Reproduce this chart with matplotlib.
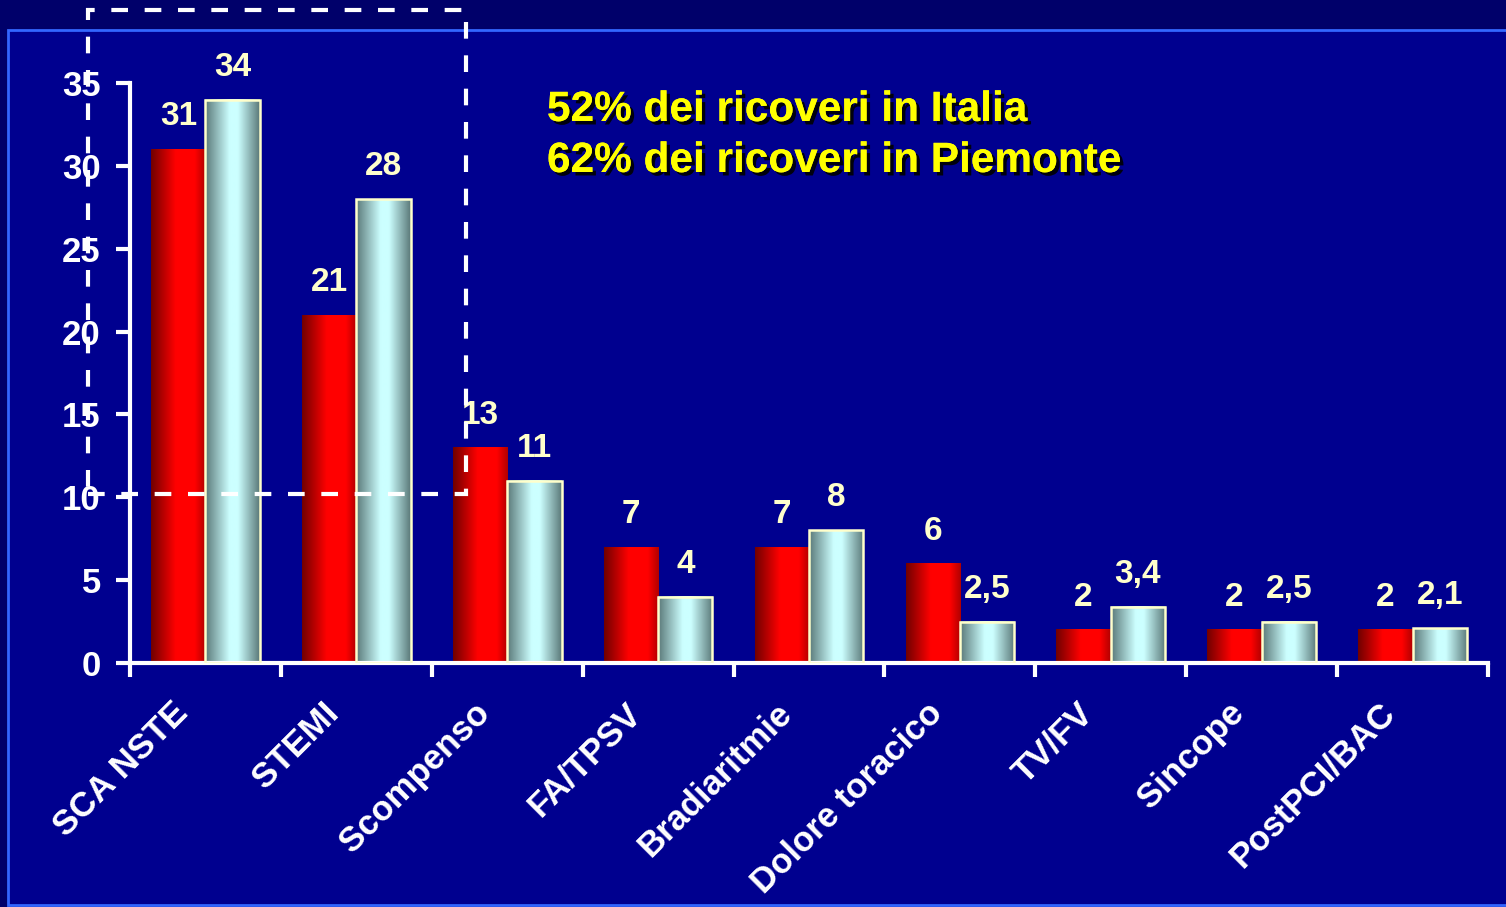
import numpy as np
import matplotlib
matplotlib.use("Agg")
import matplotlib.pyplot as plt
from matplotlib.colors import LinearSegmentedColormap
from matplotlib.patches import Rectangle
import matplotlib.patheffects as pe
import matplotlib.transforms as mtrans

plt.rcParams["font.family"] = ["Liberation Sans", "DejaVu Sans"]
plt.rcParams["font.weight"] = "bold"

categories = ["SCA NSTE", "STEMI", "Scompenso", "FA/TPSV", "Bradiaritmie",
              "Dolore toracico", "TV/FV", "Sincope", "PostPCI/BAC"]
italia = [31, 21, 13, 7, 7, 6, 2, 2, 2]
piemonte = [34, 28, 11, 4, 8, 2.5, 3.4, 2.5, 2.1]
italia_labels = ["31", "21", "13", "7", "7", "6", "2", "2", "2"]
piemonte_labels = ["34", "28", "11", "4", "8", "2,5", "3,4", "2,5", "2,1"]
yticks = [0, 5, 10, 15, 20, 25, 30, 35]

outer_bg = "#00006a"
inner_bg = "#00008f"
label_col = "#ffffcc"

red_cmap = LinearSegmentedColormap.from_list(
    "red", [(0, "#700000"), (0.45, "#ff0000"), (0.8, "#ff0000"), (1, "#b00000")])
cyan_cmap = LinearSegmentedColormap.from_list(
    "cyan", [(0, "#5a7878"), (0.45, "#ccffff"), (0.6, "#ccffff"), (1, "#5a7878")])
grad = np.linspace(0, 1, 256).reshape(1, -1)

fig = plt.figure(figsize=(15.06, 9.07), dpi=100, facecolor=outer_bg)

# inner panel with light blue border
fig.patches.append(Rectangle((8 / 1506, 1 - 905 / 907), 1.1, (905 - 30) / 907,
                             transform=fig.transFigure, facecolor=inner_bg,
                             edgecolor="#3366ff", linewidth=2, zorder=-5))

ax = fig.add_axes([130 / 1506, 1 - 663 / 907, (1488 - 130) / 1506, (663 - 83) / 907])
ax.set_facecolor("none")

x = np.arange(len(categories))
w = 0.36
bars_i = ax.bar(x - w / 2, italia, w, facecolor="none", edgecolor="none", zorder=2)
bars_p = ax.bar(x + w / 2, piemonte, w, facecolor="none", edgecolor=label_col,
                linewidth=1.8, zorder=3)

for bars, cmap in [(bars_i, red_cmap), (bars_p, cyan_cmap)]:
    for b in bars:
        x0, h = b.get_x(), b.get_height()
        ax.imshow(grad, cmap=cmap, extent=[x0, x0 + b.get_width(), 0, h],
                  aspect="auto", zorder=1, interpolation="bilinear")

for bars, labels in [(bars_i, italia_labels), (bars_p, piemonte_labels)]:
    for b, t in zip(bars, labels):
        ax.annotate(t, (b.get_x() + b.get_width() / 2, b.get_height()),
                    xytext=(0, 17), textcoords="offset pixels", ha="center",
                    va="bottom", color=label_col, fontsize=24, fontweight="bold")

ax.set_xlim(-0.5, len(categories) - 0.5)
ax.set_ylim(0, 35)
ax.set_yticks(yticks)
ax.set_yticklabels([str(v) for v in yticks], fontsize=25, color="white",
                   fontweight="bold")
ax.set_xticks(x)
ax.set_xticklabels(categories, rotation=45, ha="right", rotation_mode="anchor",
                   fontsize=25, color="white", fontweight="bold")
ax.tick_params(axis="x", which="major", length=0, pad=24)
ax.set_xticks(np.arange(len(categories) + 1) - 0.5, minor=True)
ax.tick_params(axis="x", which="minor", length=10, width=3, color="white")
ax.tick_params(axis="y", length=10, width=3, color="white", pad=11)

# nudge category labels to the left, as in the original slide
shift = mtrans.ScaledTranslation(-0.34, 0, fig.dpi_scale_trans)
for lbl in ax.get_xticklabels():
    lbl.set_transform(lbl.get_transform() + shift)

for s in ["top", "right"]:
    ax.spines[s].set_visible(False)
for s in ["left", "bottom"]:
    ax.spines[s].set_color("white")
    ax.spines[s].set_linewidth(3)

shadow = [pe.withSimplePatchShadow(offset=(2.5, -2.5), shadow_rgbFace="black",
                                   alpha=0.9), pe.Normal()]
fig.text(547 / 1506, 1 - 110 / 907, "52% dei ricoveri in Italia", color="#ffff00",
         fontsize=30.5, fontweight="bold", va="center", path_effects=shadow)
fig.text(547 / 1506, 1 - 161 / 907, "62% dei ricoveri in Piemonte", color="#ffff00",
         fontsize=30.5, fontweight="bold", va="center", path_effects=shadow)

# dashed highlight box
fig.patches.append(Rectangle((88 / 1506, 1 - 494 / 907), (466 - 88) / 1506,
                             (494 - 10) / 907, transform=fig.transFigure,
                             facecolor="none", edgecolor="white", linewidth=3,
                             linestyle=(0, (4, 4)), zorder=5))

fig.savefig("out.png", dpi=100, facecolor=outer_bg)
